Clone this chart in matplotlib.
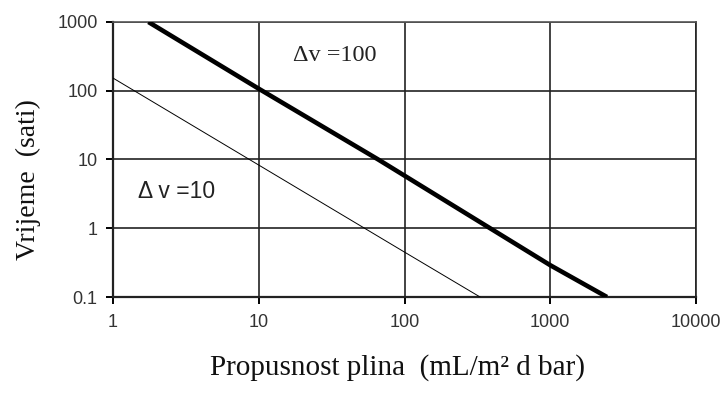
import matplotlib
matplotlib.use("Agg")
import matplotlib.pyplot as plt

# linije procitane sa slike (log-log pravci)
x_dv100 = [1.75, 10, 66, 1000, 2450]
y_dv100 = [1000, 107, 10, 0.29, 0.1]
x_dv10 = [1, 10, 100, 330]
y_dv10 = [153, 8.3, 0.45, 0.1]

x_ticks = [1, 10, 100, 1000, 10000]
x_labels = ["1", "10", "100", "1000", "10000"]
y_ticks = [0.1, 1, 10, 100, 1000]
y_labels = ["0.1", "1", "10", "100", "1000"]

fig = plt.figure(figsize=(7.25, 3.98), dpi=100)
ax = fig.add_axes([113 / 725, 1 - 297 / 398, (696 - 113) / 725, (297 - 22) / 398])

ax.plot(x_dv100, y_dv100, color="black", lw=3.3, solid_capstyle="butt", zorder=3)
ax.plot(x_dv10, y_dv10, color="black", lw=0.7, zorder=3)

ax.set_xscale("log")
ax.set_yscale("log")
ax.set_xlim(1, 10000)
ax.set_ylim(0.1, 1000)
ax.set_xticks(x_ticks)
ax.set_xticklabels(x_labels)
ax.set_yticks(y_ticks)
ax.set_yticklabels(y_labels)
ax.minorticks_off()

ax.grid(True, color="#222222", lw=1.2)
for s in ax.spines.values():
    s.set_color("#222222")
    s.set_linewidth(1.2)
ax.spines["top"].set_color("#555555")
ax.spines["bottom"].set_linewidth(1.6)
ax.spines["left"].set_linewidth(1.6)

for lab in ax.get_xticklabels() + ax.get_yticklabels():
    lab.set_family("Liberation Sans")
    lab.set_color("#333333")
ax.tick_params(axis="x", direction="out", length=5, width=1.4, pad=7, labelsize=13)
ax.tick_params(axis="y", direction="out", length=5, width=1.4, pad=6, labelsize=13)

ax.text(33, 330, "\u0394v =100", family="Liberation Serif", fontsize=17.5, color="#222222",
        ha="center", va="center")
ax.text(2.75, 3.4, "\u0394 v =10", family="Liberation Sans", fontsize=16.5, color="#222222",
        ha="center", va="center")

fig.text(28 / 725, 1 - 180 / 398, "Vrijeme  (sati)", family="Liberation Serif", fontsize=20,
         rotation=90, ha="center", va="center", color="#111111")
fig.text(397 / 725, 1 - 368 / 398, "Propusnost plina  (mL/m\u00b2 d bar)", family="Liberation Serif",
         fontsize=21, ha="center", va="center", color="#111111")

fig.savefig("out.png", dpi=100)
